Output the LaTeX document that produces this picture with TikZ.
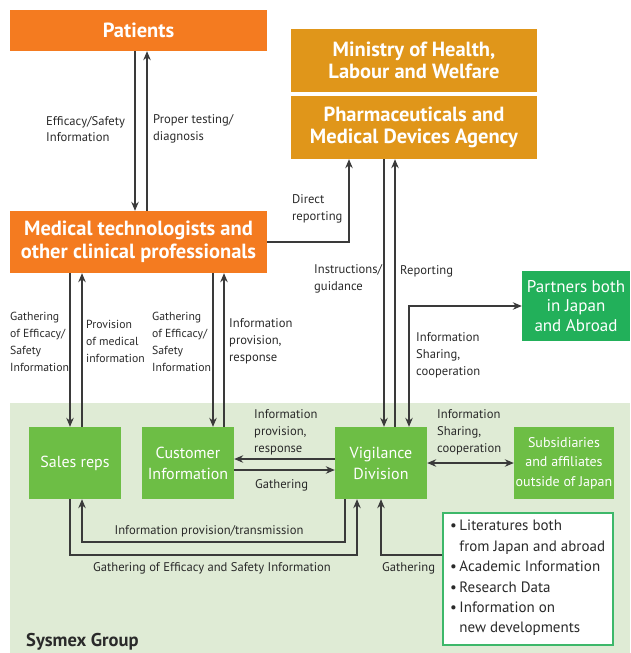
\documentclass[tikz,border=0pt]{standalone}
\usepackage{fontspec}
\setmainfont{PT Sans}
\usetikzlibrary{arrows.meta}
\definecolor{orgC}{HTML}{F47B20}
\definecolor{goldC}{HTML}{E0961A}
\definecolor{grnC}{HTML}{6DBE45}
\definecolor{darkgrnC}{HTML}{22B05A}
\definecolor{bgC}{HTML}{DFEBD5}
\definecolor{lineC}{HTML}{3A3A3A}
\definecolor{edgeC}{HTML}{3DB86A}
\definecolor{txtC}{HTML}{2A2A2A}
\begin{document}
\begin{tikzpicture}[x=1pt,y=-1pt,
  bigbox/.style={fill=#1, text=white, font=\bfseries\fontsize{20.5}{22.5}\selectfont, align=center, inner sep=0pt},
  grbox/.style={fill=grnC, text=white, font=\fontsize{16}{21}\selectfont, align=center, inner sep=0pt, minimum width=92pt, minimum height=72pt},
  lbl/.style={font=\fontsize{12.6}{16.8}\selectfont, text=txtC, align=left, inner sep=0pt, anchor=west},
  narrowlbl/.style={lbl, font=\fontsize{11.7}{17}\selectfont},
  conn/.style={draw=lineC, line width=1.1pt},
  arr/.style={conn, -{Stealth[length=9pt,width=7.5pt]}},
  darr/.style={conn, {Stealth[length=9pt,width=7.5pt]}-{Stealth[length=9pt,width=7.5pt]}}
]
\useasboundingbox (0,0) rectangle (630,653);
\fill[bgC] (10,403) rectangle (630,653);

% boxes
\node[bigbox=orgC, minimum width=257pt, minimum height=41pt] (patients) at (138.5,30.5) {Patients};
\node[bigbox=goldC, minimum width=246pt, minimum height=63pt] (ministry) at (414,60.5) {Ministry of Health,\\Labour and Welfare};
\node[bigbox=goldC, minimum width=246pt, minimum height=63pt] (pmda) at (414,127.5) {Pharmaceuticals and\\Medical Devices Agency};
\node[bigbox=orgC, minimum width=257pt, minimum height=62pt] (medical) at (138.5,242) {Medical technologists and\\other clinical professionals};
\node[fill=darkgrnC, text=white, font=\fontsize{17}{19.5}\selectfont, align=center, inner sep=0pt, minimum width=108pt, minimum height=70pt] (partners) at (576,306) {Partners both\\in Japan\\and Abroad};
\node[grbox] (sales) at (75,463) {Sales reps};
\node[grbox] (cust) at (188,463) {Customer\\Information};
\node[grbox] (vig) at (381,463) {Vigilance\\Division};
\node[grbox, minimum width=100pt, font=\fontsize{14}{19.5}\selectfont] (subs) at (564,463) {Subsidiaries\\and affiliates\\outside of Japan};
\node[fill=white, draw=edgeC, line width=1.2pt, minimum width=170pt, minimum height=132pt, inner sep=0pt] (info) at (528,579) {};
\node[font=\fontsize{15}{20.4}\selectfont, text=txtC, align=left, inner sep=0pt, anchor=west] (infotext) at (450,578)
 {\textbullet\,Literatures both\\\phantom{\textbullet\,}from Japan and abroad\\\textbullet\,Academic Information\\\textbullet\,Research Data\\\textbullet\,Information on\\\phantom{\textbullet\,}new developments};

% x / y guides
\coordinate (xA) at (135,0);
\coordinate (xB) at (147,0);
\coordinate (xC) at (70,0);
\coordinate (xD) at (82,0);
\coordinate (xE) at (213,0);
\coordinate (xF) at (224,0);
\coordinate (xG) at (349,0);
\coordinate (xH) at (384,0);
\coordinate (xI) at (395,0);
\coordinate (xJ) at (409,0);
\coordinate (xK) at (345,0);
\coordinate (xL) at (357,0);
\coordinate (xM) at (381,0);
\coordinate (yQ) at (0,542);
\coordinate (yR) at (0,555);
\coordinate (yS) at (0,459);
\coordinate (yT) at (0,470);

% connectors
\draw[arr] (patients.south -| xA) -- (medical.north -| xA);
\draw[arr] (medical.north -| xB) -- (patients.south -| xB);
\draw[arr] (medical.east) -| (pmda.south -| xG);
\draw[arr] (pmda.south -| xH) -- (vig.north -| xH);
\draw[arr] (vig.north -| xI) -- (pmda.south -| xI);
\draw[darr] (vig.north -| xJ) |- (partners.west);
\draw[arr] (medical.south -| xC) -- (sales.north -| xC);
\draw[arr] (sales.north -| xD) -- (medical.south -| xD);
\draw[arr] (medical.south -| xE) -- (cust.north -| xE);
\draw[arr] (cust.north -| xF) -- (medical.south -| xF);
\draw[arr] (vig.west |- yS) -- (cust.east |- yS);
\draw[arr] (cust.east |- yT) -- (vig.west |- yT);
\draw[darr] (vig.east) -- (subs.west);
\draw[arr] (vig.south -| xK) -- (xK |- yQ) -| (sales.south -| xD);
\draw[arr] (sales.south -| xC) -- (xC |- yR) -| (vig.south -| xL);
\draw[arr] (info.west |- yR) -| (vig.south -| xM);

% labels
\node[lbl] (l1) at (46,129) {Efficacy/Safety\\Information};
\node[lbl] (l2) at (153,129) {Proper testing/\\diagnosis};
\node[lbl] (l3) at (292,209) {Direct\\reporting};
\node[lbl] (l4) at (314,279) {Instructions/\\guidance};
\node[lbl] (l5) at (400,271) {Reporting};
\node[lbl] (l6) at (416,355) {Information\\Sharing,\\cooperation};
\node[narrowlbl] (l7) at (10,341.5) {Gathering\\of Efficacy/\\Safety\\Information};
\node[narrowlbl] (l8) at (86,341) {Provision\\of medical\\information};
\node[narrowlbl] (l9) at (152,341.5) {Gathering\\of Efficacy/\\Safety\\Information};
\node[lbl] (l10) at (229,341) {Information\\provision,\\response};
\node[lbl] (l11) at (254,432) {Information\\provision,\\response};
\node[lbl] (l12) at (255,485) {Gathering};
\node[lbl] (l13) at (437,432) {Information\\Sharing,\\cooperation};
\node[lbl, anchor=center] (l14) at (209,531) {Information provision/transmission};
\node[lbl, anchor=center] (l15) at (212,568) {Gathering of Efficacy and Safety Information};
\node[lbl] (l16) at (382,568) {Gathering};
\node[lbl, font=\bfseries\fontsize{18.5}{20}\selectfont] (sysmex) at (26,642) {Sysmex Group};
\end{tikzpicture}
\end{document}
